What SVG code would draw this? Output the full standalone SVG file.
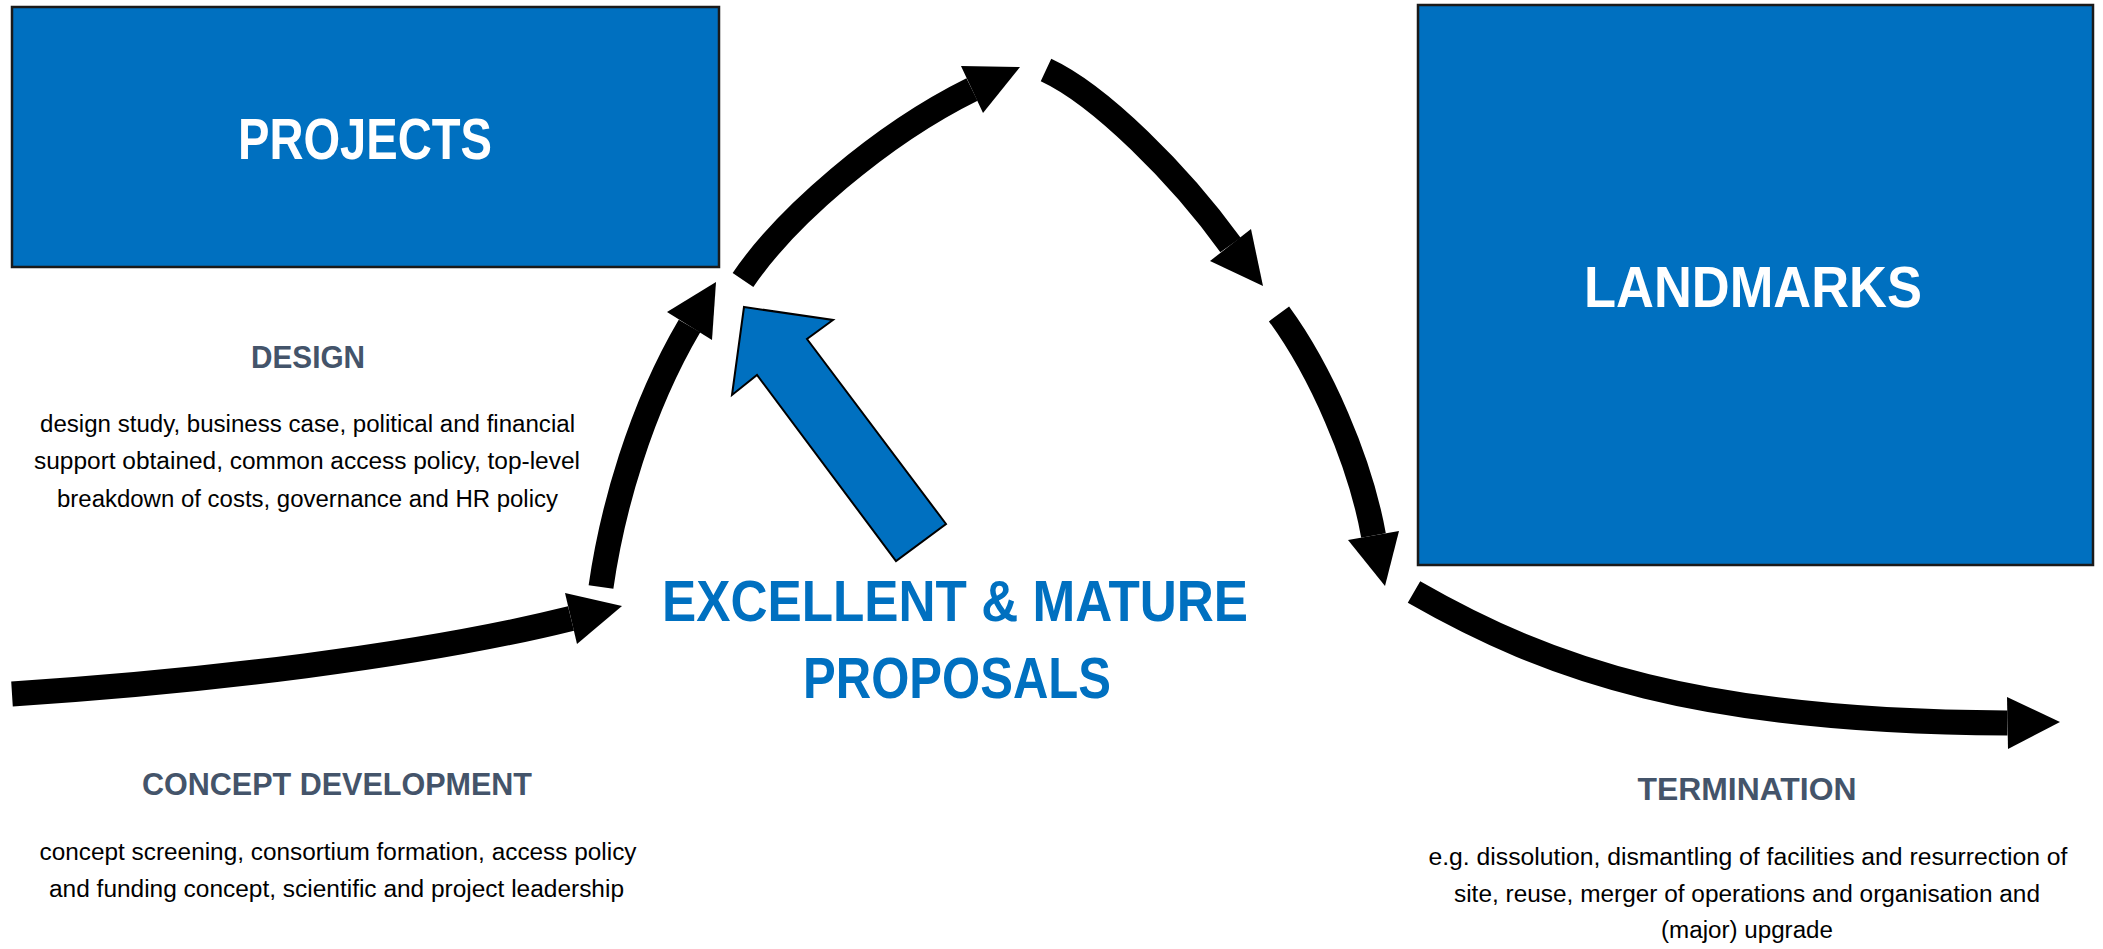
<svg xmlns="http://www.w3.org/2000/svg" width="2103" height="949" viewBox="0 0 2103 949">
<style>
.box{fill:#0070C0;stroke:#1a1a1a;stroke-width:2.5}
.title{font-family:"Liberation Sans",Arial,sans-serif;font-weight:bold;font-size:57px;text-anchor:middle}
.white{fill:#FFFFFF}
.blue{fill:#0070C0}
.head{font-family:"Liberation Sans",Arial,sans-serif;font-weight:bold;font-size:31px;fill:#44546A;text-anchor:middle}
.body{font-family:"Liberation Sans",Arial,sans-serif;font-size:23px;fill:#000000;text-anchor:middle}
.shaft{fill:none;stroke:#000000;stroke-width:25;stroke-linecap:butt}
.tip{fill:#000000}
.blockarrow{fill:#0070C0;stroke:#000000;stroke-width:2;stroke-linejoin:miter}
</style>
<rect width="2103" height="949" fill="#FFFFFF"/>

<g id="node-projects">
<rect class="box" x="12" y="7" width="707" height="260"/>
<text class="title white" x="365" y="159" textLength="254" lengthAdjust="spacingAndGlyphs">PROJECTS</text>
</g>

<g id="node-landmarks">
<rect class="box" x="1418" y="5" width="675" height="560"/>
<text class="title white" x="1753" y="307" textLength="338" lengthAdjust="spacingAndGlyphs">LANDMARKS</text>
</g>

<g id="node-proposals">
<text class="title blue" x="955" y="621" textLength="586" lengthAdjust="spacingAndGlyphs">EXCELLENT &amp; MATURE</text>
<text class="title blue" x="957" y="698" textLength="308" lengthAdjust="spacingAndGlyphs">PROPOSALS</text>
</g>

<g id="node-design">
<text class="head" x="308" y="368" textLength="114" lengthAdjust="spacingAndGlyphs">DESIGN</text>
<text class="body" x="307.5" y="432" textLength="535" lengthAdjust="spacingAndGlyphs">design study, business case, political and financial</text>
<text class="body" x="307" y="469" textLength="546" lengthAdjust="spacingAndGlyphs">support obtained, common access policy, top-level</text>
<text class="body" x="307.5" y="507" textLength="501" lengthAdjust="spacingAndGlyphs">breakdown of costs, governance and HR policy</text>
</g>

<g id="node-concept">
<text class="head" x="337" y="795" textLength="390" lengthAdjust="spacingAndGlyphs">CONCEPT DEVELOPMENT</text>
<text class="body" x="338" y="860" textLength="597" lengthAdjust="spacingAndGlyphs">concept screening, consortium formation, access policy</text>
<text class="body" x="336.5" y="897" textLength="575" lengthAdjust="spacingAndGlyphs">and funding concept, scientific and project leadership</text>
</g>

<g id="node-termination">
<text class="head" x="1747" y="800" textLength="219" lengthAdjust="spacingAndGlyphs">TERMINATION</text>
<text class="body" x="1748" y="865" textLength="639" lengthAdjust="spacingAndGlyphs">e.g. dissolution, dismantling of facilities and resurrection of</text>
<text class="body" x="1747" y="902" textLength="586" lengthAdjust="spacingAndGlyphs">site, reuse, merger of operations and organisation and</text>
<text class="body" x="1747" y="938" textLength="172" lengthAdjust="spacingAndGlyphs">(major) upgrade</text>
</g>

<g id="connectors">
<path class="shaft" d="M12,694 C200,682 420,656 571,618.5"/>
<polygon class="tip" points="622,606 565,593 577,644"/>
<path class="shaft" d="M601,587 C612,510 640,410 689.5,326"/>
<polygon class="tip" points="716,282 667,312 712,340"/>
<path class="shaft" d="M743,280 C785,218 880,135 972,89.5"/>
<polygon class="tip" points="1020,67 961,66 983,113"/>
<path class="shaft" d="M1046,70 C1100,95 1180,175 1230.5,245"/>
<polygon class="tip" points="1263,286 1210,261 1251,229"/>
<path class="shaft" d="M1279,314 C1320,370 1360,460 1373.5,535.5"/>
<polygon class="tip" points="1385,586 1348,540 1399,531"/>
<path class="shaft" d="M1414,592 C1550,670 1700,722 2007.5,723"/>
<polygon class="tip" points="2060,722 2007,697 2008,749"/>
<polygon class="blockarrow" points="744,307 833,320 807,339 946,524 896,561 757,375 732,395"/>
</g>
</svg>
